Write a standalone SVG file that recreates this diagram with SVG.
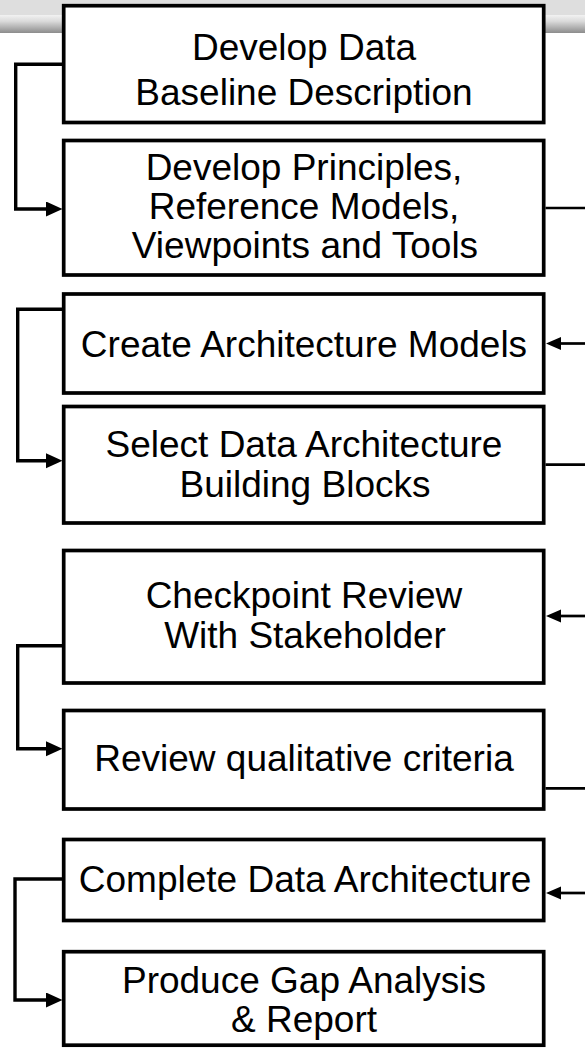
<svg xmlns="http://www.w3.org/2000/svg" width="585" height="1050" viewBox="0 0 585 1050">
  <style>
    .box { fill: #ffffff; stroke: #000000; stroke-width: 3.7; }
    .lbl { font-family: "Liberation Sans", Arial, sans-serif; font-size: 37px; fill: #000000; text-anchor: middle; }
    .cl { fill: none; stroke: #000000; stroke-width: 3.4; stroke-linejoin: miter; }
    .cr { fill: none; stroke: #000000; stroke-width: 2.7; }
  </style>
  <defs>
    <linearGradient id="barGrad" x1="0" y1="0" x2="0" y2="1">
      <stop offset="0" stop-color="#f2f2f2"/>
      <stop offset="0.35" stop-color="#dadada"/>
      <stop offset="1" stop-color="#8c8c8c"/>
    </linearGradient>
    <marker id="arrL" markerUnits="userSpaceOnUse" markerWidth="17" markerHeight="16" refX="0" refY="7.5" orient="auto">
      <path d="M0,0 L16.5,7.5 L0,15 z" fill="#000000"/>
    </marker>
    <marker id="arrR" markerUnits="userSpaceOnUse" markerWidth="15" markerHeight="14" refX="0" refY="6.5" orient="auto">
      <path d="M0,0 L15,6.5 L0,13 z" fill="#000000"/>
    </marker>
  </defs>

  <g id="header-bar">
    <rect x="0" y="0" width="585" height="15" fill="#dedede"/>
    <rect x="0" y="15" width="585" height="18" fill="url(#barGrad)"/>
  </g>

  <g id="connectors">
    <path class="cl" d="M62,64.3 H15.7 V209 H46" marker-end="url(#arrL)"/>
    <path class="cl" d="M62,309.3 H17.7 V460.8 H46" marker-end="url(#arrL)"/>
    <path class="cl" d="M62,645.7 H17.7 V748.7 H46" marker-end="url(#arrL)"/>
    <path class="cl" d="M62,879 H15 V1000 H46" marker-end="url(#arrL)"/>
    <path class="cr" d="M545.5,208 H585"/>
    <path class="cr" d="M585,343.5 H561" marker-end="url(#arrR)"/>
    <path class="cr" d="M545.5,464.7 H585"/>
    <path class="cr" d="M585,616 H561" marker-end="url(#arrR)"/>
    <path class="cr" d="M545.5,788.3 H585"/>
    <path class="cr" d="M585,893 H561" marker-end="url(#arrR)"/>
  </g>

  <g id="node-baseline">
    <rect class="box" x="63.7" y="5.7" width="480" height="116.8"/>
    <text class="lbl" x="304" y="60">Develop Data</text>
    <text class="lbl" x="304" y="105">Baseline Description</text>
  </g>
  <g id="node-principles">
    <rect class="box" x="63.7" y="140.5" width="480" height="134.5"/>
    <text class="lbl" x="304" y="180">Develop Principles,</text>
    <text class="lbl" x="304" y="218.5">Reference Models,</text>
    <text class="lbl" x="305" y="257.5">Viewpoints and Tools</text>
  </g>
  <g id="node-models">
    <rect class="box" x="63.7" y="294" width="480" height="99"/>
    <text class="lbl" x="304" y="357">Create Architecture Models</text>
  </g>
  <g id="node-building-blocks">
    <rect class="box" x="63.7" y="406.5" width="480" height="116.5"/>
    <text class="lbl" x="304" y="456.5">Select Data Architecture</text>
    <text class="lbl" x="305" y="496.5">Building Blocks</text>
  </g>
  <g id="node-checkpoint">
    <rect class="box" x="63.7" y="550.5" width="480" height="132.5"/>
    <text class="lbl" x="304" y="608">Checkpoint Review</text>
    <text class="lbl" x="305" y="648">With Stakeholder</text>
  </g>
  <g id="node-criteria">
    <rect class="box" x="63.7" y="710.5" width="480" height="98.5"/>
    <text class="lbl" x="304" y="771">Review qualitative criteria</text>
  </g>
  <g id="node-complete">
    <rect class="box" x="63.7" y="839.5" width="480" height="81"/>
    <text class="lbl" x="305" y="892">Complete Data Architecture</text>
  </g>
  <g id="node-gap">
    <rect class="box" x="63.7" y="951.7" width="480" height="93.5"/>
    <text class="lbl" x="304" y="992.5">Produce Gap Analysis</text>
    <text class="lbl" x="304" y="1031.5">&amp; Report</text>
  </g>
</svg>
